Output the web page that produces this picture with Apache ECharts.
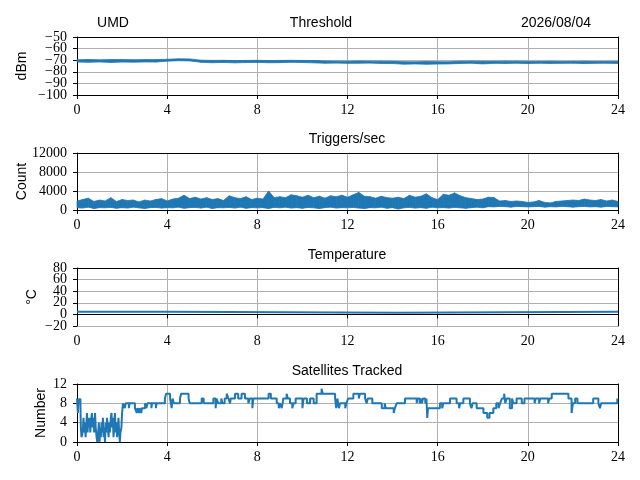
<!DOCTYPE html>
<html>
<head>
<meta charset="utf-8">
<script src="https://cdn.jsdelivr.net/npm/echarts@6/dist/echarts.min.js"></script>
<style>
html, body { margin: 0; padding: 0; background: #fff; }
#main { width: 640px; height: 480px; }
</style>
</head>
<body>
<div id="main"></div>
<script>
// x ticks (hours of the day)
var hourTicks = [0, 4, 8, 12, 16, 20, 24];

// threshold band, one sample every half hour
var threshStep = 0.5;
var threshHi = [-69.6,-69.4,-69.7,-69.5,-69.4,-69.6,-69.5,-69.5,
  -69.2,-68.8,-68.9,
  -70,-70.2,-70.1,-70.3,-70.2,-70.1,-70.3,-70.2,-70.1,-70.2,-70.3,
  -70.7,-70.8,-70.9,-70.7,-70.8,-70.9,-71,
  -71.3,-71.4,-71.2,-71.3,-71.4,
  -70.9,-70.8,-70.9,-71,-70.8,-70.9,-71.1,
  -71.1,-71,-71.2,-71.1,-71,-71.2,-71.1,-71.1];
var threshLo = [-71.6,-71.8,-71.5,-71.9,-71.6,-71.7,-71.5,-71.6,
  -70.8,-70.4,-70.6,
  -71.8,-72.2,-71.9,-72.3,-72,-71.9,-72.2,-72.1,-71.8,-72,-72.3,
  -72.6,-72.5,-72.7,-72.6,-72.5,-72.8,-72.9,
  -73.4,-73.2,-73.5,-73.3,-73.2,
  -72.8,-72.6,-73.2,-72.7,-72.8,-72.6,-72.9,
  -72.6,-72.8,-72.7,-72.6,-72.9,-72.7,-72.6,-72.8];

// triggers/sec band, one sample every quarter hour
var trigStep = 0.25;
var trigHi = [1900,2200,2500,1800,2100,1900,2600,1800,2200,
  2000,2100,1700,2100,1900,2200,2400,1900,
  2300,2500,3100,2400,2700,2300,2600,2200,
  2400,2000,3000,2600,2400,2800,2200,2500,
  2300,4000,2600,2800,2600,3200,3000,2700,
  3100,2600,2900,2500,3000,2800,3100,2700,
  3200,3700,2900,2800,2500,2900,2600,2500,
  2700,2400,3100,2700,2900,3400,2600,2200,
  3300,3100,3600,3000,2600,2400,2200,2300,
  2700,2600,1900,2000,1800,1900,1800,1600,
  1700,2000,1600,1500,1800,1900,2000,2100,
  2000,2300,2100,2000,2200,1900,2100,1800];
var trigLo = [500,400,600,300,500,450,550,350,500,400,600,450,300,500,550,400,500,
  450,600,350,500,550,400,600,300,500,450,550,400,600,350,500,450,
  500,300,550,450,600,400,500,350,550,450,300,500,600,400,500,450,
  550,400,300,500,450,600,350,500,200,450,550,400,500,350,600,450,
  500,400,550,450,350,500,600,450,700,650,750,700,600,750,700,650,
  700,750,600,700,650,750,700,600,700,750,650,700,600,750,700,650];

// temperature (steps)
var tempTimes = [0, 0.74, 0.78, 4.12, 14.2, 24];
var tempValues = [4.5, 3, 4.5, 3, 4.5, 4.5];

// satellites tracked (steps)
var satTimes = [0,0.04,0.07,0.12,0.15,0.17,0.2,0.25,0.29,0.32,0.35,0.38,0.41,0.44,0.47,0.5,0.53,0.56,0.59,0.62,
  0.66,0.7,0.73,0.76,0.8,0.83,0.87,0.9,0.94,0.97,1.0,1.03,1.06,1.09,1.12,1.15,1.18,1.21,1.24,1.27,
  1.3,1.33,1.37,1.4,1.43,1.46,1.5,1.53,1.56,1.59,1.62,1.65,1.68,1.72,1.75,1.78,1.81,1.84,1.87,1.9,
  1.93,1.97,2.0,2.04,2.12,2.16,2.3,2.33,2.57,2.65,2.68,2.75,2.78,2.85,2.88,3.02,3.08,3.12,3.3,3.33,
  3.5,3.53,3.9,3.95,4.13,4.2,4.24,4.3,4.57,4.62,4.95,5.0,5.53,5.62,6.05,6.15,6.19,6.27,6.4,6.45,
  6.55,6.64,6.72,6.79,6.82,7.01,7.15,7.3,7.45,7.6,7.67,7.78,7.82,8.5,8.6,8.86,8.95,9.0,9.08,9.12,
  9.15,9.3,9.35,9.45,9.55,9.6,9.7,10.0,10.05,10.2,10.34,10.5,10.63,10.85,10.9,11.45,11.5,11.55,11.62,11.67,
  11.9,11.95,12.03,12.26,12.5,12.55,12.78,12.85,12.9,13.0,13.1,13.52,13.65,13.7,14.05,14.1,14.18,14.55,15.07,15.1,
  15.2,15.25,15.3,15.35,15.45,15.5,15.54,15.57,16.1,16.2,16.25,16.55,16.84,16.95,17.0,17.14,17.43,17.5,17.55,17.73,
  18.03,18.2,18.3,18.47,18.6,18.7,18.77,18.85,18.95,19.0,19.06,19.2,19.3,19.36,19.5,19.73,19.85,20.3,20.35,20.5,
  20.55,20.9,20.95,21.06,21.8,21.94,22.0,22.1,22.2,22.9,23.13,23.2,23.25,23.97,24];
var satValues = [9,6,9,8,9,3,1,2,5,2,4,1,3,6,2,5,3,5,2,4,
  6,3,5,2,6,3,1,0,2,4,0,3,1,4,2,5,1,3,0,4,
  2,5,3,1,4,2,5,6,3,5,1,3,6,2,4,1,3,5,2,0,
  2,3,6,8,7,8,7,8,7,6,7,6,7,6,7,8,7,8,7,8,
  7,8,9,10,9,7,9,8,9,10,9,8,9,8,9,7,9,8,9,8,
  9,10,9,8,9,10,9,10,9,8,9,7,9,10,9,8,7,8,7,8,
  9,10,9,8,7,8,9,7,9,8,9,8,10,11,10,9,7,9,7,8,
  7,8,9,10,9,10,9,8,9,9,8,7,8,7,6,7,8,9,8,9,
  8,9,8,9,8,9,5,7,8,7,8,9,8,7,8,9,8,7,8,7,
  6,5,6,7,8,7,8,9,10,8,9,7,9,8,9,8,9,8,9,8,
  9,8,9,10,9,6,8,9,8,9,8,7,8,9,9];

var blue = '#1f77b4';
var sans = 'Liberation Sans';
var serif = 'Liberation Serif';

function pairs(xs, ys) {
  var out = [];
  for (var i = 0; i < ys.length; i++) out.push([xs[i], ys[i]]);
  return out;
}
// one quad per sample interval: [t0, lo0, hi0, t1, lo1, hi1]
function bandSegments(step, lo, hi) {
  var out = [];
  for (var i = 0; i + 1 < hi.length; i++) {
    out.push([i * step, lo[i], hi[i], (i + 1) * step, lo[i + 1], hi[i + 1]]);
  }
  return out;
}
// y tick labels are split over two stacked axes (even / odd ticks),
// otherwise echarts drops the ones packed next to min and max
function yLabel(parity) {
  return function (v, idx) {
    return idx % 2 === parity ? String(v).replace('-', '\u2212') : '';
  };
}

var grids = [
  {left: 77, right: 22, top: 37, height: 58},
  {left: 77, right: 22, top: 153, height: 57},
  {left: 77, right: 22, top: 268, height: 58},
  {left: 77, right: 22, top: 384, height: 58}
];
var yRanges = [
  {min: -100, max: -50, interval: 10, name: 'dBm', gap: 48},
  {min: 0, max: 12000, interval: 4000, name: 'Count', gap: 48},
  {min: -20, max: 80, interval: 20, name: '\u00b0C', gap: 38},
  {min: 0, max: 12, interval: 4, name: 'Number', gap: 29}
];
var labelStyle = {color: '#000', fontFamily: serif, fontSize: 14, margin: 10,
                  showMinLabel: true, showMaxLabel: true};

var xAxes = [], yAxes = [];
grids.forEach(function (g, i) {
  xAxes.push({
    gridIndex: i, type: 'value', min: 0, max: 24, interval: 4,
    axisLine: {lineStyle: {color: '#000', width: 1}},
    axisTick: {length: 4, lineStyle: {color: '#000'}},
    axisLabel: {color: '#000', fontFamily: serif, fontSize: 14, margin: 8,
                showMinLabel: true, showMaxLabel: true},
    splitLine: {show: true, lineStyle: {color: '#b0b0b0', width: 1}}
  });
  xAxes.push({
    gridIndex: i, type: 'value', min: 0, max: 24, position: 'top',
    axisLine: {onZero: false, lineStyle: {color: '#000', width: 1}},
    axisTick: {show: false}, axisLabel: {show: false}, splitLine: {show: false}
  });
  var r = yRanges[i];
  yAxes.push({
    gridIndex: i, type: 'value', min: r.min, max: r.max, interval: r.interval,
    name: r.name, nameLocation: 'middle', nameRotate: 90, nameGap: r.gap,
    nameMoveOverlap: false,
    nameTextStyle: {color: '#000', fontFamily: sans, fontSize: 14},
    axisLine: {show: true, onZero: false, lineStyle: {color: '#000', width: 1}},
    axisTick: {show: true, length: 4, lineStyle: {color: '#000'}},
    axisLabel: Object.assign({formatter: yLabel(0)}, labelStyle),
    splitLine: {show: true, lineStyle: {color: '#b0b0b0', width: 1}}
  });
  yAxes.push({
    gridIndex: i, type: 'value', min: r.min, max: r.max, interval: r.interval, position: 'left',
    axisLine: {show: false}, axisTick: {show: false}, splitLine: {show: false},
    axisLabel: Object.assign({formatter: yLabel(1)}, labelStyle)
  });
  yAxes.push({
    gridIndex: i, type: 'value', min: r.min, max: r.max, position: 'right',
    axisLine: {show: true, onZero: false, lineStyle: {color: '#000', width: 1}},
    axisTick: {show: false}, axisLabel: {show: false}, splitLine: {show: false}
  });
});

function band(idx, step, lo, hi) {
  return {
    type: 'custom', xAxisIndex: 2 * idx, yAxisIndex: 3 * idx,
    data: bandSegments(step, lo, hi),
    encode: {x: [0, 3], y: [1, 2, 4, 5]},
    renderItem: function (params, api) {
      var a = api.coord([api.value(0), api.value(1)]);
      var b = api.coord([api.value(0), api.value(2)]);
      var c = api.coord([api.value(3), api.value(5)]);
      var d = api.coord([api.value(3), api.value(4)]);
      return {type: 'polygon', shape: {points: [a, b, c, d]},
              style: {fill: blue, stroke: blue, lineWidth: 0.8}};
    }
  };
}

var series = [
  band(0, threshStep, threshLo, threshHi),
  band(1, trigStep, trigLo, trigHi),
  {type: 'line', xAxisIndex: 4, yAxisIndex: 6, step: 'end', data: pairs(tempTimes, tempValues),
   showSymbol: false, lineStyle: {color: blue, width: 2}},
  {type: 'line', xAxisIndex: 6, yAxisIndex: 9, step: 'end', data: pairs(satTimes, satValues),
   showSymbol: false, lineStyle: {color: blue, width: 2}}
];

var titleStyle = {color: '#000', fontFamily: sans, fontSize: 14, fontWeight: 'normal'};
var dom = document.getElementById("main");
var myChart = echarts.init(dom);
var option = {
  animation: false,
  backgroundColor: '#fff',
  title: [
    {text: 'UMD', left: 113, top: 16, textAlign: 'center', padding: 0, textStyle: titleStyle},
    {text: 'Threshold', left: 321, top: 16, textAlign: 'center', padding: 0, textStyle: titleStyle},
    {text: '2026/08/04', left: 556, top: 16, textAlign: 'center', padding: 0, textStyle: titleStyle},
    {text: 'Triggers/sec', left: 347, top: 132, textAlign: 'center', padding: 0, textStyle: titleStyle},
    {text: 'Temperature', left: 347, top: 248, textAlign: 'center', padding: 0, textStyle: titleStyle},
    {text: 'Satellites Tracked', left: 347, top: 364, textAlign: 'center', padding: 0, textStyle: titleStyle}
  ],
  grid: grids,
  xAxis: xAxes,
  yAxis: yAxes,
  series: series
};
myChart.setOption(option);
</script>
</body>
</html>
